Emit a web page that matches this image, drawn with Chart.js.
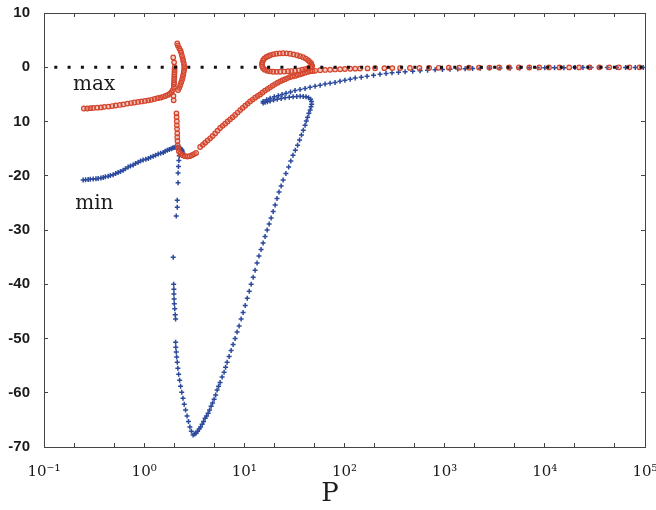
<!DOCTYPE html>
<html>
<head>
<meta charset="utf-8">
<script src="https://cdn.jsdelivr.net/npm/chart.js@4.4.1/dist/chart.umd.min.js"></script>
<style>
  html, body { margin: 0; padding: 0; background: #fff; }
  canvas { display: block; }
</style>
</head>
<body>
<canvas id="c" width="656" height="510"></canvas>
<script>
// Upper extremum (max) of the response versus P
const maxP = [
  0.25, 0.27, 0.29, 0.31, 0.34, 0.37, 0.40, 0.44, 0.48, 0.52, 0.57, 0.62, 0.68, 0.74, 0.80, 0.87, 0.94,
  1.02, 1.10, 1.18, 1.27, 1.36, 1.45, 1.54, 1.63, 1.72, 1.80, 1.87, 1.93,
  1.97, 1.96, 1.98, 1.98, 1.99, 1.99, 2.00, 2.00, 2.01, 2.01, 2.02, 1.99, 1.95,
  2.14, 2.17, 2.24, 2.30, 2.34, 2.38, 2.42, 2.45, 2.49, 2.51, 2.51, 2.49, 2.46, 2.43, 2.39, 2.34, 2.29, 2.24, 2.18,
  2.10, 2.11, 2.12, 2.12, 2.13, 2.14, 2.14, 2.15, 2.16, 2.18, 2.22, 2.30, 2.42, 2.55, 2.70, 2.85, 3.00, 3.15, 3.30,
  3.62, 3.85, 4.06, 4.30, 4.56, 4.83, 5.11, 5.41, 5.73, 6.07, 6.43, 6.81, 7.21, 7.64, 8.09, 8.57, 9.08, 9.62,
  10.2, 10.8, 11.4, 12.1, 12.8, 13.6, 14.4, 15.2, 16.1, 17.1, 18.1, 19.2, 20.3, 21.5, 22.8, 24.1, 25.5, 27.0,
  28.6, 30.3, 32.1, 34.0, 36.1, 38.2, 40.4, 42.8, 45.4, 48.0, 50.9, 57.1, 64.0, 71.8, 80.5, 90.4, 101, 114,
  15.0, 15.1, 15.4, 15.8, 16.5, 17.2, 18.1, 19.4, 20.8, 22.5, 24.4, 26.4, 28.6, 31.0, 33.6, 36.0, 38.6, 41.0,
  43.3, 45.0, 46.4, 47.0, 47.5, 46.0, 43.3, 40.5, 37.8, 35.0, 32.1, 29.5, 27.3, 25.0, 22.8, 21.0, 19.4, 18.0,
  16.9, 16.0, 15.4, 15.1,
  128, 143, 170, 202, 250, 300, 359, 450, 560, 700, 870, 1100, 1400, 1750, 2200, 2800, 3500, 4400, 5500,
  7000, 8800, 11000, 14000, 17500, 22000, 28000, 35000, 44000, 55000, 70000, 88000
];
const maxV = [
  -7.6, -7.6, -7.55, -7.5, -7.45, -7.4, -7.3, -7.25, -7.15, -7.05, -6.95, -6.85, -6.7, -6.6, -6.5, -6.4, -6.3,
  -6.2, -6.1, -6.0, -5.85, -5.7, -5.6, -5.45, -5.3, -5.1, -4.9, -4.6, -4.2,
  -6.1, -5.3, -3.7, -3.2, -2.8, -2.3, -1.8, -1.35, -0.9, -0.45, 0.0, 0.9, 1.8,
  4.4, 4.0, 3.5, 3.1, 2.7, 2.2, 1.7, 1.2, 0.7, 0.2, -0.3, -0.8, -1.3, -1.8, -2.3, -2.8, -3.3, -3.8, -4.2,
  -8.5, -9.2, -10.0, -10.7, -11.4, -12.2, -12.9, -13.6, -14.4, -14.9, -15.5, -15.9, -16.2, -16.4, -16.45, -16.4, -16.2, -16.0, -15.8,
  -14.7, -14.3, -13.9, -13.5, -13.1, -12.65, -12.2, -11.7, -11.2, -10.8, -10.4, -10.0, -9.6, -9.2, -8.8, -8.35, -7.9, -7.5,
  -7.1, -6.7, -6.3, -5.95, -5.6, -5.3, -5.0, -4.65, -4.3, -4.0, -3.7, -3.4, -3.1, -2.85, -2.6, -2.4, -2.2, -2.0,
  -1.8, -1.7, -1.6, -1.45, -1.3, -1.15, -1.0, -0.87, -0.74, -0.7, -0.65, -0.55, -0.5, -0.46, -0.41, -0.37, -0.32, -0.28,
  0.55, 0.9, 1.29, 1.6, 1.84, 2.05, 2.21, 2.38, 2.49, 2.55, 2.58, 2.56, 2.49, 2.37, 2.21, 2.05, 1.84, 1.6,
  1.29, 1.0, 0.74, 0.45, 0.18, -0.02, -0.18, -0.33, -0.46, -0.56, -0.65, -0.7, -0.74, -0.8, -0.83, -0.85, -0.83, -0.76,
  -0.65, -0.45, -0.18, 0.15,
  -0.26, -0.24, -0.21, -0.18, -0.17, -0.16, -0.15, -0.13, -0.12, -0.11, -0.1, -0.09, -0.08, -0.07, -0.06, -0.06, -0.05, -0.05, -0.04,
  -0.04, -0.04, -0.03, -0.03, -0.03, -0.03, -0.02, -0.02, -0.02, -0.02, -0.02, -0.02
];

// Lower extremum (min) of the response versus P
const minP = [
  0.246, 0.26, 0.276, 0.29, 0.31, 0.33, 0.347, 0.37, 0.39, 0.41, 0.437, 0.46, 0.49, 0.52, 0.55, 0.58, 0.617, 0.65,
  0.692, 0.73, 0.776, 0.82, 0.871, 0.92, 0.977, 1.04, 1.10, 1.16, 1.23, 1.30, 1.38, 1.46, 1.55, 1.62, 1.70, 1.78,
  1.86, 1.93, 1.99, 2.06, 2.14, 2.22, 2.29, 2.35, 2.39, 2.42, 2.45,
  2.24, 2.22, 2.20, 2.18, 2.18, 2.14, 2.14, 2.09, 1.95, 1.97, 1.98, 1.98, 1.99, 2.00, 2.02, 2.04, 2.06, 2.06, 2.07,
  2.09, 2.11, 2.14, 2.17, 2.21, 2.26, 2.31, 2.37, 2.44, 2.51, 2.59, 2.68, 2.77, 2.86, 2.96, 3.08,
  3.20, 3.30, 3.42, 3.54, 3.66, 3.79, 3.92, 4.06, 4.20, 4.35, 4.50, 4.66, 4.82, 4.99, 5.17, 5.35, 5.54, 5.73,
  6.00, 6.28, 6.50, 6.73, 7.05, 7.38, 7.73, 8.09, 8.47, 8.87, 9.29, 9.72, 10.2, 10.7, 11.2, 11.7, 12.25, 12.8,
  13.4, 14.0, 14.7, 15.4, 16.1, 16.9, 17.7, 18.5, 19.4, 20.3, 21.2, 22.2, 23.3, 24.4, 26.0, 27.7, 29.1, 30.6,
  32.3, 34.0, 35.6, 37.2, 38.8, 40.4, 41.6, 42.8, 44.1, 45.4, 46.3, 47.0, 46.8, 45.9, 43.8, 41.3, 38.7, 36.1,
  33.4, 30.7, 28.1, 25.5, 23.3, 21.3, 19.6, 18.1, 17.0, 16.1, 15.4,
  15.4, 16.7, 18.1, 19.9, 21.8, 23.8, 26.1, 28.9, 32.1, 36.0, 40.4, 45.3, 50.9, 57.1, 64.0, 71.8, 80.5, 90.2,
  101, 114, 128, 147, 168, 195, 226, 260, 298, 346, 403, 480, 569, 675, 803, 950, 1130, 1350, 1600, 1900,
  2270, 2800, 3570, 4500, 5600, 7000, 8500, 10000, 12500, 15500, 20000, 24000, 29000, 35000, 42000, 52000,
  64000, 80000, 96000
];
const minV = [
  -20.8, -20.75, -20.7, -20.65, -20.6, -20.55, -20.5, -20.4, -20.3, -20.2, -20.1, -19.95, -19.8, -19.6, -19.4, -19.2, -19.0, -18.7,
  -18.4, -18.2, -18.0, -17.75, -17.5, -17.3, -17.1, -16.95, -16.8, -16.6, -16.4, -16.2, -16.0, -15.85, -15.7, -15.5, -15.3, -15.15,
  -15.0, -14.9, -14.8, -14.75, -14.7, -14.75, -14.9, -15.1, -15.3, -15.6, -15.9,
  -16.3, -17.2, -18.3, -19.5, -21.3, -24.5, -25.8, -27.4, -35.0, -40.0, -40.9, -41.8, -42.7, -43.6, -44.5, -45.6, -46.4, -50.7, -51.6,
  -52.5, -53.4, -54.4, -55.5, -56.6, -57.7, -58.8, -59.9, -61.0, -62.1, -63.2, -64.3, -65.3, -66.3, -67.1, -67.8,
  -67.6, -67.4, -67.1, -66.7, -66.3, -65.8, -65.3, -64.7, -64.3, -63.8, -63.2, -62.5, -61.9, -61.2, -60.4, -59.5, -58.8, -58.1,
  -57.1, -56.2, -55.3, -54.4, -53.3, -52.2, -51.1, -50.0, -48.8, -47.7, -46.4, -45.2, -43.9, -42.6, -41.3, -40.0, -38.7, -37.4,
  -36.1, -34.8, -33.6, -32.4, -31.2, -30.0, -28.9, -27.8, -26.6, -25.4, -24.2, -23.0, -21.9, -20.8, -19.6, -18.4, -17.3, -16.2,
  -15.3, -14.4, -13.4, -12.5, -11.6, -10.7, -9.9, -9.2, -8.5, -7.9, -7.3, -6.8, -6.3, -5.9, -5.6, -5.45, -5.38, -5.35,
  -5.4, -5.45, -5.52, -5.6, -5.75, -5.9, -6.05, -6.2, -6.35, -6.45, -6.6,
  -6.3, -6.0, -5.7, -5.45, -5.25, -5.0, -4.8, -4.55, -4.3, -4.1, -3.9, -3.7, -3.5, -3.3, -3.1, -2.95, -2.8, -2.6,
  -2.4, -2.2, -2.0, -1.83, -1.66, -1.47, -1.29, -1.15, -1.01, -0.92, -0.83, -0.74, -0.65, -0.55, -0.46, -0.41, -0.37, -0.32, -0.28, -0.23,
  -0.18, -0.16, -0.15, -0.13, -0.12, -0.1, -0.09, -0.08, -0.075, -0.07, -0.06, -0.055, -0.05, -0.045, -0.04, -0.04,
  -0.035, -0.03, -0.03
];

// Zero reference line across the whole P range
const zeroLineP = [0.1, 100000];
const zeroLineV = [0, 0];

// Axis ticks
const xTickValues = [0.1, 0.2, 0.5, 1, 2, 5, 10, 20, 50, 100, 200, 500, 1000, 2000, 5000, 10000, 20000, 50000, 100000];
const xDecades = [0.1, 1, 10, 100, 1000, 10000, 100000];
const xTickLabels = ['10⁻¹', '10⁰', '10¹', '10²', '10³', '10⁴', '10⁵'];
const yTickValues = [10, 0, -10, -20, -30, -40, -50, -60, -70];
const yTickLabels = ['10', '0', '10', '-20', '-30', '-40', '-50', '-60', '-70'];

// Curve names written inside the plot, anchored in data units
const curveNames = ['max', 'min'];
const nameAnchors = [{ p: 0.195, v: -4.2 }, { p: 0.205, v: -26.2 }];
const xTitle = 'P';

const toPoints = (xs, ys) => xs.map((x, i) => ({ x, y: ys[i] }));

const RED = '#d4432b';
const BLUE = '#2b4a9e';
const AXIS = '#444';

const plotText = {
  id: 'plotText',
  afterDatasetsDraw(chart) {
    const { ctx, chartArea, scales: { x, y } } = chart;
    ctx.save();
    ctx.fillStyle = '#1c1c1c';
    ctx.textAlign = 'left';
    ctx.textBaseline = 'alphabetic';
    ctx.font = '20px "DejaVu Serif"';
    curveNames.forEach((t, i) => {
      ctx.fillText(t, x.getPixelForValue(nameAnchors[i].p), y.getPixelForValue(nameAnchors[i].v));
    });
    ctx.textAlign = 'center';
    ctx.font = '26px "DejaVu Serif"';
    ctx.fillText(xTitle, chartArea.left + 0.476 * (chartArea.right - chartArea.left), 501);
    ctx.restore();
  }
};

const setXTicks = s => { s.ticks = xTickValues.map(v => ({ value: v })); };
const setYTicks = s => { s.ticks = yTickValues.map(v => ({ value: v })); };

const axisGrid = { drawOnChartArea: false, drawTicks: true, tickLength: -4, color: AXIS, lineWidth: 1 };
const axisBorder = { display: true, color: AXIS, width: 1 };

new Chart(document.getElementById('c'), {
  type: 'scatter',
  data: {
    datasets: [
      {
        type: 'line',
        data: toPoints(zeroLineP, zeroLineV),
        borderColor: '#111',
        borderWidth: 3,
        borderDash: [3, 10.3],
        borderDashOffset: 3,
        borderCapStyle: 'butt',
        pointRadius: 0,
        fill: false
      },
      {
        data: toPoints(maxP, maxV),
        pointStyle: 'circle',
        pointRadius: 2.3,
        pointBorderWidth: 1.2,
        borderColor: RED,
        backgroundColor: 'rgba(222,110,85,0.35)',
        showLine: false
      },
      {
        data: toPoints(minP, minV),
        pointStyle: 'cross',
        pointRadius: 2.5,
        pointBorderWidth: 1.5,
        borderColor: BLUE,
        backgroundColor: BLUE,
        showLine: false
      }
    ]
  },
  options: {
    responsive: false,
    animation: false,
    devicePixelRatio: 1,
    events: [],
    layout: { padding: 0 },
    plugins: { legend: { display: false }, tooltip: { enabled: false } },
    scales: {
      x: {
        type: 'logarithmic', position: 'bottom', min: 0.1, max: 100000,
        afterBuildTicks: setXTicks,
        afterFit: s => { s.height = 63; s.paddingLeft = 0; s.paddingRight = 0; },
        grid: axisGrid, border: axisBorder,
        ticks: {
          autoSkip: false, maxRotation: 0, minRotation: 0, padding: 20,
          color: '#1a1a1a', font: { family: '"DejaVu Serif"', size: 15 },
          callback: v => { const i = xDecades.indexOf(v); return i >= 0 ? xTickLabels[i] : ''; }
        }
      },
      x2: {
        type: 'logarithmic', position: 'top', min: 0.1, max: 100000,
        afterBuildTicks: setXTicks,
        afterFit: s => { s.height = 13; s.paddingLeft = 0; s.paddingRight = 0; },
        grid: axisGrid, border: axisBorder,
        ticks: { display: false, autoSkip: false }
      },
      y: {
        type: 'linear', position: 'left', min: -70, max: 10,
        afterBuildTicks: setYTicks,
        afterFit: s => { s.width = 44; s.paddingTop = 0; s.paddingBottom = 0; },
        grid: axisGrid, border: axisBorder,
        ticks: {
          autoSkip: false, padding: 18,
          color: '#1a1a1a', font: { family: '"Liberation Sans"', size: 15, weight: 'bold' },
          callback: v => yTickLabels[yTickValues.indexOf(v)]
        }
      },
      y2: {
        type: 'linear', position: 'right', min: -70, max: 10,
        afterBuildTicks: setYTicks,
        afterFit: s => { s.width = 11; s.paddingTop = 0; s.paddingBottom = 0; },
        grid: axisGrid, border: axisBorder,
        ticks: { display: false, autoSkip: false }
      }
    }
  },
  plugins: [plotText]
});
</script>
</body>
</html>
